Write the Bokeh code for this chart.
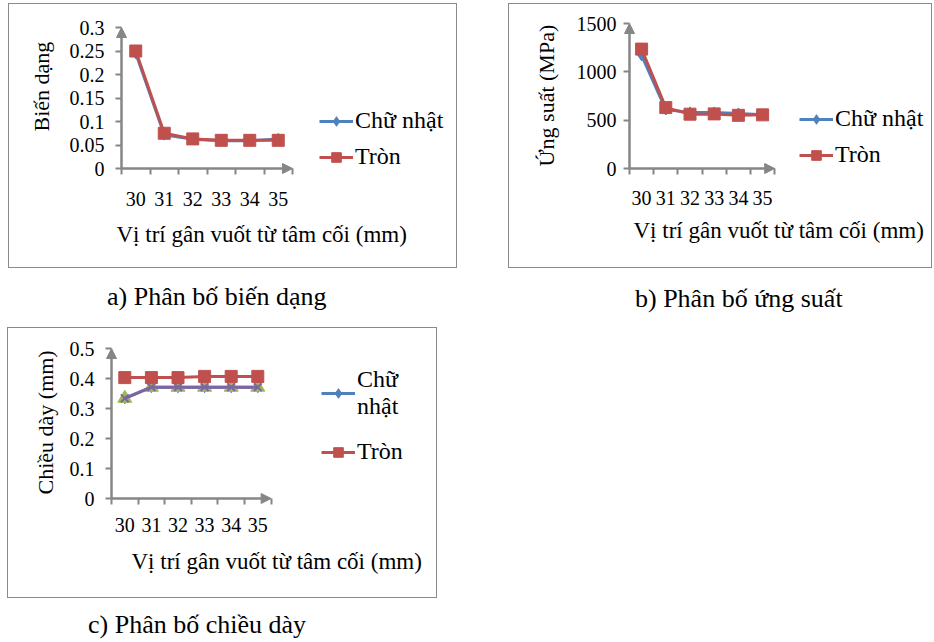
from bokeh.plotting import figure
from bokeh.models import (FixedTicker, Legend, LegendItem, Arrow, NormalHead,
                          Div, Spacer, Range1d, Title)
from bokeh.layouts import row, column
from bokeh.embed import file_html
from bokeh.resources import INLINE

# ---------------- data ----------------
positions = [30, 31, 32, 33, 34, 35]
position_labels = ["30", "31", "32", "33", "34", "35"]
x_title = "Vị trí gân vuốt từ tâm cối (mm)"
series_names = ["Chữ nhật", "Tròn"]
series_names_wrapped = ["Chữ\nnhật", "Tròn"]

strain_rect = [0.245, 0.072, 0.062, 0.059, 0.059, 0.063]
strain_round = [0.250, 0.075, 0.063, 0.060, 0.060, 0.060]
strain_ticks = [0, 0.05, 0.1, 0.15, 0.2, 0.25, 0.3]
strain_tick_labels = ["0", "0.05", "0.1", "0.15", "0.2", "0.25", "0.3"]

stress_rect = [1170, 610, 580, 580, 570, 555]
stress_round = [1235, 630, 562, 565, 550, 555]
stress_ticks = [0, 500, 1000, 1500]
stress_tick_labels = ["0", "500", "1000", "1500"]

thick_rect = [0.334, 0.371, 0.371, 0.371, 0.371, 0.371]
thick_round = [0.403, 0.403, 0.403, 0.407, 0.407, 0.407]
thick_ticks = [0, 0.1, 0.2, 0.3, 0.4, 0.5]
thick_tick_labels = ["0", "0.1", "0.2", "0.3", "0.4", "0.5"]

captions = ["a) Phân bố biến dạng", "b) Phân bố ứng suất", "c) Phân bố chiều dày"]

# ---------------- style ----------------
FONT = "Liberation Serif"
BLUE = "#4F81BD"
RED = "#C0504D"
GREEN = "#9BBB59"
PURPLE = "#8064A2"
AXIS = "#868686"
BORDER = {"border": "1px solid #8a8a8a"}
GAP = 6  # px between frame edge and drawn axis line (room for tick marks)


def make_panel(box, frame_top, axis_x, axis_y0, axis_top, cat_px, frame_right, y_max,
               yt, ytl, ylabel, rect, rnd, legend_left, legend_bottom, legend_spacing,
               title_left, ytitle_bottom, legend_labels, ytick_std, ytitle_std,
               xtick_std, xtitle_std, excel_extra=False):
    bl, bt, br, bb = box
    f_left = axis_x - GAP
    f_bottom = axis_y0 + GAP
    fw = frame_right - f_left
    x0 = 29.5 - GAP / cat_px
    ppu = (axis_y0 - axis_top) / y_max
    p = figure(width=br - bl, height=bb - bt, output_backend="svg", toolbar_location=None,
               x_range=Range1d(x0, x0 + fw / cat_px),
               y_range=Range1d(-GAP / ppu, y_max + (axis_top - frame_top) / ppu),
               min_border_left=f_left - bl, min_border_right=br - frame_right,
               min_border_top=frame_top - bt, min_border_bottom=bb - f_bottom,
               outline_line_color=None, background_fill_color="white",
               border_fill_color="white", styles=BORDER, align="start")
    p.xgrid.visible = False
    p.ygrid.visible = False

    xa = p.xaxis[0]
    xa.ticker = FixedTicker(ticks=positions, minor_ticks=[29.5 + i for i in range(7)])
    xa.major_label_overrides = {k: v for k, v in zip(positions, position_labels)}
    xa.major_tick_line_color = None
    xa.major_tick_out = 0
    xa.major_tick_in = 0
    xa.minor_tick_line_color = AXIS
    xa.minor_tick_line_width = 2
    xa.minor_tick_out = 0
    xa.minor_tick_in = GAP
    xa.axis_line_color = None
    xa.major_label_standoff = xtick_std
    xa.major_label_text_font = FONT
    xa.major_label_text_font_size = "20px"
    xa.major_label_text_color = "black"

    ya = p.yaxis[0]
    ya.ticker = FixedTicker(ticks=yt, minor_ticks=[])
    ya.major_label_overrides = {k: v for k, v in zip(yt, ytl)}
    ya.major_tick_line_color = AXIS
    ya.major_tick_line_width = 2
    ya.major_tick_out = 0
    ya.major_tick_in = GAP
    ya.minor_tick_line_color = None
    ya.axis_line_color = None
    ya.major_label_standoff = ytick_std
    ya.major_label_text_font = FONT
    ya.major_label_text_font_size = "20px"
    ya.major_label_text_color = "black"

    # axis lines with arrow heads
    p.add_layout(Arrow(end=NormalHead(size=10, fill_color=AXIS, line_color=AXIS),
                       x_start=29.5, y_start=0, x_end=35.5, y_end=0,
                       line_color=AXIS, line_width=2.5))
    p.add_layout(Arrow(end=NormalHead(size=10, fill_color=AXIS, line_color=AXIS),
                       x_start=29.5, y_start=0, x_end=29.5, y_end=y_max,
                       line_color=AXIS, line_width=2.5))

    l1 = p.line(positions, rect, line_color=BLUE, line_width=3)
    s1 = p.scatter(positions, rect, marker="diamond", size=11, fill_color=BLUE, line_color=BLUE)
    if excel_extra:
        p.scatter(positions, rect, marker="triangle", size=14, fill_color=GREEN, line_color=GREEN)
        p.line(positions, rect, line_color=PURPLE, line_width=3)
        p.scatter(positions, rect, marker="x", size=11, line_color=PURPLE, line_width=2)
    l2 = p.line(positions, rnd, line_color=RED, line_width=3)
    s2 = p.scatter(positions, rnd, marker="square", size=12, fill_color=RED, line_color=RED)

    legend = Legend(items=[LegendItem(label=legend_labels[0], renderers=[l1, s1]),
                           LegendItem(label=legend_labels[1], renderers=[l2, s2])],
                    location=(legend_left - f_left, f_bottom - legend_bottom),
                    border_line_color=None, background_fill_alpha=0,
                    padding=0, margin=0, spacing=legend_spacing, glyph_width=34,
                    glyph_height=24, label_height=24, label_standoff=2,
                    label_text_font=FONT, label_text_font_size="24px",
                    label_text_color="black")
    p.add_layout(legend)

    # axis titles
    p.add_layout(Title(text=x_title, align="left", offset=title_left - f_left,
                       text_font=FONT, text_font_size="23px", text_font_style="normal",
                       text_color="black", standoff=xtitle_std), "below")
    p.add_layout(Title(text=ylabel, align="left", offset=f_bottom - ytitle_bottom,
                       text_font=FONT, text_font_size="22px", text_font_style="normal",
                       text_color="black", standoff=ytitle_std), "left")
    return p


# panel boxes & axis geometry in page pixels
pa = make_panel((8, 3, 457, 268), 22, 120, 167, 26, 28.5, 450, 0.3,
                strain_ticks, strain_tick_labels, "Biến dạng", strain_rect, strain_round,
                318, 169, 9, 115, 130, series_names, 11, 26, 17, 23)
pb = make_panel((508, 3, 932, 268), 22, 628, 167, 22, 24.2, 928, 1500,
                stress_ticks, stress_tick_labels, "Ứng suất (MPa)", stress_rect, stress_round,
                798, 167, 9, 632, 165, series_names, 7, 29, 16, 17)
pc = make_panel((7, 327, 437, 598), 347, 110, 497, 347, 26.6, 430, 0.5,
                thick_ticks, thick_tick_labels, "Chiều dày (mm)", thick_rect, thick_round,
                320, 464, 18, 130, 493, series_names_wrapped, 11, 17, 13, 24,
                excel_extra=True)


def caption_div(items, height):
    spans = "".join(
        f'<span style="position:absolute;left:{x}px;top:{y}px;transform:translateY(-50%);'
        f'white-space:nowrap;font-family:\'{FONT}\';font-size:26px;color:black;">{t}</span>'
        for t, x, y in items)
    return Div(text=f'<div style="position:relative;width:930px;height:{height}px;">{spans}</div>',
               width=930, height=height, margin=(0, 0, 0, 0))


cap_row = caption_div([(captions[0], 107, 29), (captions[1], 635, 31)], 59)
cap_c = caption_div([(captions[2], 88, 27)], 40)

layout = column(Spacer(height=3),
                row(Spacer(width=8), pa, Spacer(width=51), pb),
                cap_row,
                row(Spacer(width=7), pc),
                cap_c)

open("out.html", "w").write(file_html(layout, INLINE))
